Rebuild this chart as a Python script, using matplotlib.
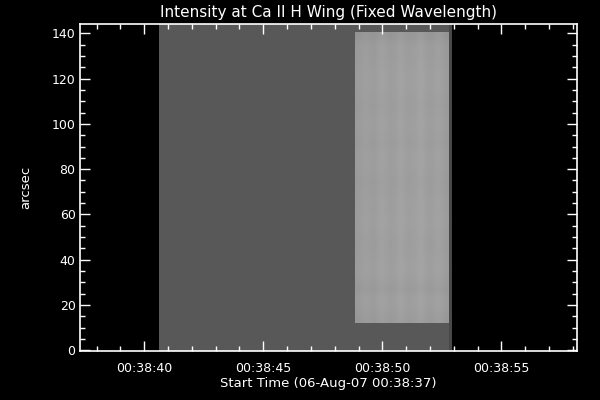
import numpy as np
import matplotlib.pyplot as plt
from matplotlib.ticker import MultipleLocator, FuncFormatter

# seconds after 00:38:00
scan_start, scan_end = 40.63, 52.89
slit_start, slit_end = 48.85, 52.79
slit_bottom, slit_top = 11.9, 140.3
dark_level = 88
edge_level = 72

# column brightness across the bright strip (left -> right)
col_levels = [154, 156, 158, 157, 155, 159, 161, 158, 156, 158, 162, 160,
              157, 158, 160, 163, 159, 156, 158, 161, 158, 154]
# row offsets along the strip (bottom -> top)
row_offsets = [-3, 0, 1, -3, 0, 2, 1, 0, 0, 1, 2, 1, 1, 0, -1, 0, 1, 1,
               -1, 0, 1, 0, -1, 0, 1, 1, 0, -1, -1, -6]

xlim = (37.32, 58.16)
ylim = (-0.4, 144.1)

fig = plt.figure(figsize=(6, 4), dpi=100, facecolor='black')
ax = fig.add_axes([0.134, 0.122, 0.827, 0.818], facecolor='black')

# the scanned area
ax.imshow([[dark_level]], extent=(scan_start, scan_end, ylim[0], ylim[1]),
          cmap='gray', vmin=0, vmax=255, aspect='auto', origin='lower')
ax.imshow([[edge_level]], extent=(slit_end, scan_end, ylim[0], ylim[1]),
          cmap='gray', vmin=0, vmax=255, aspect='auto', origin='lower')

img = np.add.outer(np.array(row_offsets), np.array(col_levels))
ax.imshow(img, extent=(slit_start, slit_end, slit_bottom, slit_top),
          cmap='gray', vmin=0, vmax=255, aspect='auto', origin='lower',
          interpolation='bilinear')

ax.set_xlim(*xlim)
ax.set_ylim(*ylim)

ax.xaxis.set_major_locator(MultipleLocator(5))
ax.xaxis.set_minor_locator(MultipleLocator(1))
ax.yaxis.set_major_locator(MultipleLocator(20))
ax.yaxis.set_minor_locator(MultipleLocator(5))
ax.xaxis.set_major_formatter(FuncFormatter(lambda v, p: f"00:38:{int(round(v)):02d}"))

ax.tick_params(which='both', direction='in', colors='white', top=True, right=True,
               labelsize=9, width=1)
ax.tick_params(which='major', length=7.5)
ax.tick_params(which='minor', length=3.5)
ax.tick_params(axis='x', pad=8)
for s in ax.spines.values():
    s.set_color('white')
    s.set_linewidth(1.2)

ax.set_title('Intensity at Ca II H Wing (Fixed Wavelength)', color='white', fontsize=11, pad=5)
ax.set_xlabel('Start Time (06-Aug-07 00:38:37)', color='white', fontsize=9.5, labelpad=1)
ax.set_ylabel('arcsec', color='white', fontsize=9.5, labelpad=14)

fig.savefig('out.png', dpi=100, facecolor='black')
